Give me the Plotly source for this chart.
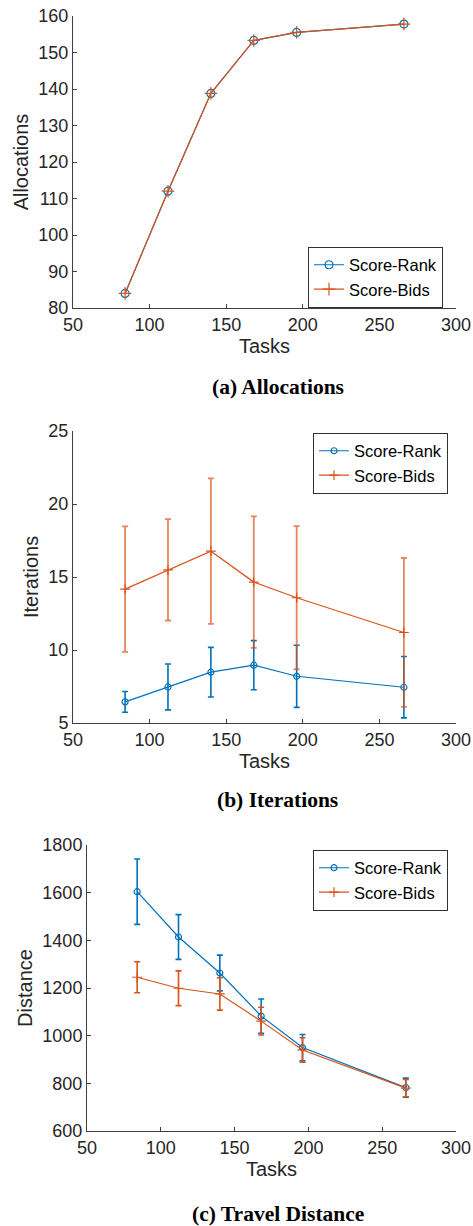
import plotly.graph_objects as go

tasks = [84, 112, 140, 168, 196, 266]

alloc_rank = [84, 112, 138.8, 153.3, 155.5, 157.8]
alloc_bids = [84, 112, 138.8, 153.3, 155.5, 157.8]

iter_rank = [6.45, 7.47, 8.48, 8.96, 8.2, 7.45]
iter_rank_err = [0.71, 1.57, 1.7, 1.68, 2.13, 2.1]
iter_bids = [14.17, 15.49, 16.77, 14.65, 13.58, 11.2]
iter_bids_err = [4.3, 3.47, 4.98, 4.5, 4.9, 5.1]

dist_rank = [1604, 1414, 1263, 1082, 950, 782]
dist_rank_err = [137, 94, 75, 72, 55, 40]
dist_bids = [1245, 1199, 1175, 1061, 940, 780]
dist_bids_err = [65, 73, 68, 58, 51, 36]

BLUE = "#0072BD"
ORANGE = "#D95319"
AX = "#262626"
TICKF = dict(family="Liberation Sans, Arial, sans-serif", size=18, color=AX)
TITLEF = dict(family="Liberation Sans, Arial, sans-serif", size=20, color=AX)

fig = go.Figure()

# (a) Allocations
fig.add_trace(go.Scatter(x=tasks, y=alloc_rank, mode="lines+markers", name="Score-Rank",
                         line=dict(color=BLUE, width=1.2),
                         marker=dict(symbol="circle-open", size=8, color=BLUE, line=dict(width=1.2)),
                         xaxis="x", yaxis="y", legend="legend"))
fig.add_trace(go.Scatter(x=tasks, y=alloc_bids, mode="lines+markers", name="Score-Bids",
                         line=dict(color=ORANGE, width=1.2),
                         marker=dict(symbol="cross-thin", size=9, color=ORANGE, line=dict(width=1.2, color=ORANGE)),
                         xaxis="x", yaxis="y", legend="legend"))

# (b) Iterations
fig.add_trace(go.Scatter(x=tasks, y=iter_rank, mode="lines+markers", name="Score-Rank",
                         line=dict(color=BLUE, width=1.2),
                         marker=dict(symbol="circle-open", size=6, color=BLUE, line=dict(width=1.2)),
                         error_y=dict(type="data", array=iter_rank_err, visible=True, color=BLUE,
                                      thickness=1.6, width=3),
                         xaxis="x2", yaxis="y2", legend="legend2"))
fig.add_trace(go.Scatter(x=tasks, y=iter_bids, mode="lines+markers", name="Score-Bids",
                         line=dict(color=ORANGE, width=1.2),
                         marker=dict(symbol="cross-thin", size=7, color=ORANGE, line=dict(width=1.2, color=ORANGE)),
                         error_y=dict(type="data", array=iter_bids_err, visible=True, color="rgba(217,83,25,0.7)",
                                      thickness=1.8, width=3),
                         xaxis="x2", yaxis="y2", legend="legend2"))

# (c) Distance
fig.add_trace(go.Scatter(x=tasks, y=dist_rank, mode="lines+markers", name="Score-Rank",
                         line=dict(color=BLUE, width=1.2),
                         marker=dict(symbol="circle-open", size=6, color=BLUE, line=dict(width=1.2)),
                         error_y=dict(type="data", array=dist_rank_err, visible=True, color=BLUE,
                                      thickness=1.6, width=3),
                         xaxis="x3", yaxis="y3", legend="legend3"))
fig.add_trace(go.Scatter(x=tasks, y=dist_bids, mode="lines+markers", name="Score-Bids",
                         line=dict(color=ORANGE, width=1.2),
                         marker=dict(symbol="cross-thin", size=7, color=ORANGE, line=dict(width=1.2, color=ORANGE)),
                         error_y=dict(type="data", array=dist_bids_err, visible=True, color=ORANGE,
                                      thickness=1.6, width=3),
                         xaxis="x3", yaxis="y3", legend="legend3"))

H = 1226.0
W = 473.0

def ydom(top, bottom):
    return [1 - bottom / H, 1 - top / H]

def xdom(left, right):
    return [left / W, right / W]

axcommon = dict(showline=True, linecolor="#404040", linewidth=1, ticks="inside", ticklen=4,
                tickcolor="#404040", showgrid=False, zeroline=False, tickfont=TICKF, mirror=False,
                automargin=False)

legcommon = dict(bgcolor="white", bordercolor="#333333", borderwidth=1,
                 font=dict(family="Liberation Sans, Arial, sans-serif", size=16.5, color="black"),
                 tracegroupgap=0, itemwidth=30)

fig.update_layout(
    width=473, height=1226, margin=dict(l=0, r=0, t=0, b=0, autoexpand=False),
    paper_bgcolor="white", plot_bgcolor="white",
    xaxis=dict(domain=xdom(73, 456), range=[50, 300], dtick=50, anchor="y",
               title=dict(text="Tasks", font=TITLEF, standoff=2), **axcommon),
    yaxis=dict(domain=ydom(16, 308), range=[80, 160], dtick=10, anchor="x",
               title=dict(text="Allocations", font=TITLEF, standoff=4), **axcommon),
    xaxis2=dict(domain=xdom(73, 456), range=[50, 300], dtick=50, anchor="y2",
                title=dict(text="Tasks", font=TITLEF, standoff=2), **axcommon),
    yaxis2=dict(domain=ydom(431, 723), range=[5, 25], dtick=5, anchor="x2",
                title=dict(text="Iterations", font=TITLEF, standoff=4), **axcommon),
    xaxis3=dict(domain=xdom(87, 456), range=[50, 300], dtick=50, anchor="y3",
                title=dict(text="Tasks", font=TITLEF, standoff=2), **axcommon),
    yaxis3=dict(domain=ydom(845, 1131), range=[600, 1800], dtick=200, anchor="x3",
                title=dict(text="Distance", font=TITLEF, standoff=4), **axcommon),
    legend=dict(x=443 / W, y=1 - 277 / H, xanchor="right", yanchor="middle", **legcommon),
    legend2=dict(x=448 / W, y=1 - 463 / H, xanchor="right", yanchor="middle", **legcommon),
    legend3=dict(x=448 / W, y=1 - 880 / H, xanchor="right", yanchor="middle", **legcommon),
    showlegend=True,
)

CAPF = dict(family="Liberation Serif, Times New Roman, serif", size=21.5, color="black")
for text, ypx in [("(a) Allocations", 387), ("(b) Iterations", 800), ("(c) Travel Distance", 1214)]:
    fig.add_annotation(text="<b>" + text + "</b>", x=0.587, y=1 - ypx / H, xref="paper", yref="paper",
                       xanchor="center", yanchor="middle", showarrow=False, font=CAPF)

fig.write_html("out.html", config={"displayModeBar": False},
               post_script="document.body.style.margin='0px';document.body.style.padding='0px';"
                           "document.body.style.overflow='hidden';")
